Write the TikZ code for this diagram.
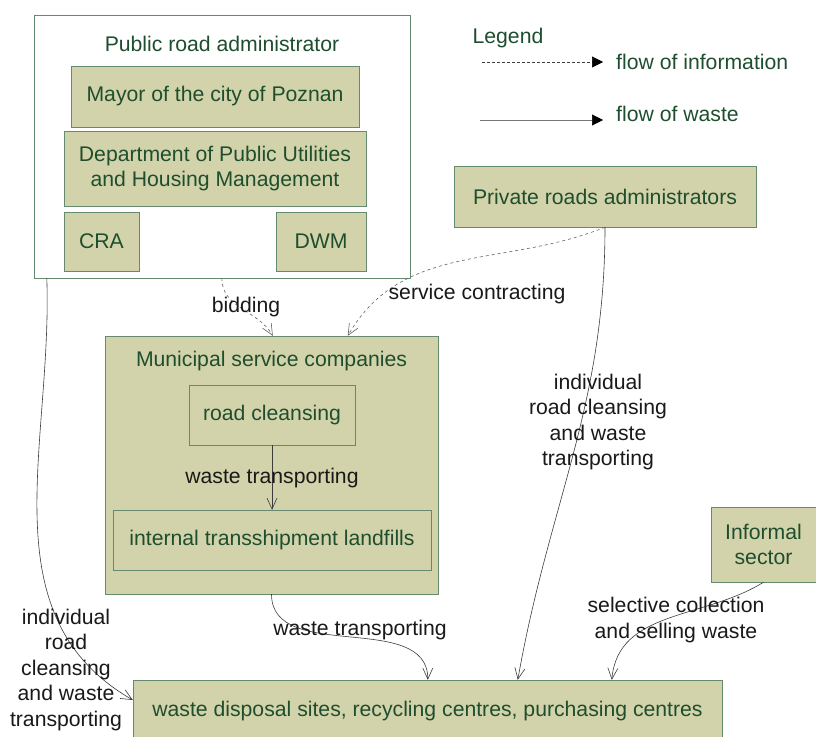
\documentclass[tikz,border=0pt]{standalone}
\usepackage{fontspec}
\setmainfont{Liberation Sans}
\usetikzlibrary{arrows.meta,calc}
\definecolor{boxfill}{RGB}{211,211,171}
\definecolor{boxline}{RGB}{100,138,112}
\definecolor{boxtext}{RGB}{30,78,45}
\definecolor{linkcol}{RGB}{60,60,60}
\begin{document}
\begin{tikzpicture}[x=1pt,y=1pt,
  every node/.style={font=\fontsize{21.2}{25.5}\selectfont},
  box/.style={draw=boxline, fill=boxfill, text=boxtext, rectangle, inner sep=0pt, align=center},
  group/.style={draw=boxline, rectangle, inner sep=0pt},
  title/.style={text=boxtext, inner sep=0pt},
  lbl/.style={text=black!90, align=center, inner sep=0pt},
  info/.style={draw=linkcol!80, dashed, line width=0.6pt, -{Straight Barb[length=11pt,width=10pt]}},
  waste/.style={draw=linkcol, line width=0.6pt, -{Straight Barb[length=11pt,width=10pt]}},
  legarrow/.style={line width=0.6pt, -{Triangle[length=11pt,width=11pt,color=black,fill=black]}}
]
\useasboundingbox (0,0) rectangle (816,-736);

% public road administrator and its units
\node[group, fill=white, minimum width=376pt, minimum height=263pt] (pra) at (222,-146.5) {};
\node[title] (pratitle) at (222,-44) {Public road administrator};
\node[box, minimum width=288pt, minimum height=61pt] (mayor) at (215,-96.5) {Mayor of the city of Poznan};
\node[box, minimum width=302pt, minimum height=75pt] (dept) at (215,-168.5) {Department of Public Utilities\\and Housing Management};
\node[box, minimum width=75pt, minimum height=59pt] (cra) at (101.5,-241.5) {CRA};
\node[box, minimum width=90pt, minimum height=59pt] (dwm) at (321,-241.5) {DWM};

% legend
\node[title] (legend) at (508,-38) {Legend};
\coordinate (li1) at (482,-62);
\coordinate (li2) at (603,-62);
\coordinate (lw1) at (480,-120);
\coordinate (lw2) at (603,-120);
\draw[legarrow, dash pattern=on 3pt off 2pt, draw=linkcol] (li1) -- (li2);
\draw[legarrow, draw=linkcol!70] (lw1) -- (lw2);
\node[title, anchor=west] (linfo) at (616,-62) {flow of information};
\node[title, anchor=west] (lwaste) at (616,-114) {flow of waste};

% private administrators
\node[box, minimum width=302pt, minimum height=61pt] (priv) at (605,-196.5) {Private roads administrators};

% municipal service companies
\node[box, minimum width=333pt, minimum height=258pt] (msc) at (271.5,-465) {};
\node[title] (msctitle) at (271.5,-361) {Municipal service companies};
\node[box, minimum width=166pt, minimum height=60pt] (rc) at (272,-415) {road cleansing};
\node[box, minimum width=318pt, minimum height=60pt] (its) at (272,-540) {internal transshipment landfills};

% informal sector
\node[box, minimum width=105pt, minimum height=75pt] (inf) at (763.5,-544.5) {Informal\\sector};

% final destinations
\node[box, minimum width=589pt, minimum height=80pt] (dest) at (427.5,-720) {};
\node[title] (desttext) at (427.5,-711) {waste disposal sites, recycling centres, purchasing centres};

% information flows
\draw[info] ([xshift=188pt]pra.south west) to[out=-90,in=120] ([xshift=168pt]msc.north west);
\draw[info] (priv.south) to[out=202,in=60] ([xshift=243pt]msc.north west);

% waste flows
\draw[waste] (rc.south) -- (its.north);
\draw[waste] (priv.south) to[out=-90,in=80] ([xshift=385pt]dest.north west);
\draw[waste] (msc.south) to[out=-90,in=90] ([xshift=295pt]dest.north west);
\draw[waste] (inf.south) to[out=212,in=85] ([xshift=479pt]dest.north west);
\draw[waste] ([xshift=13pt]pra.south west) to[out=-88,in=150] ([yshift=20pt]dest.west);

% flow labels
\node[lbl] (lbid) at (246,-307) {bidding};
\node[lbl] (lserv) at (477,-294) {service contracting};
\node[lbl] (lpriv) at (598,-422) {individual\\road cleansing\\and waste\\transporting};
\node[lbl] (linner) at (272,-478) {waste transporting};
\node[lbl] (lmsc) at (360,-630) {waste transporting};
\node[lbl] (linf) at (676,-620) {selective collection\\and selling waste};
\node[lbl] (lpub) at (66,-670) {individual\\road\\cleansing\\and waste\\transporting};
\end{tikzpicture}
\end{document}
